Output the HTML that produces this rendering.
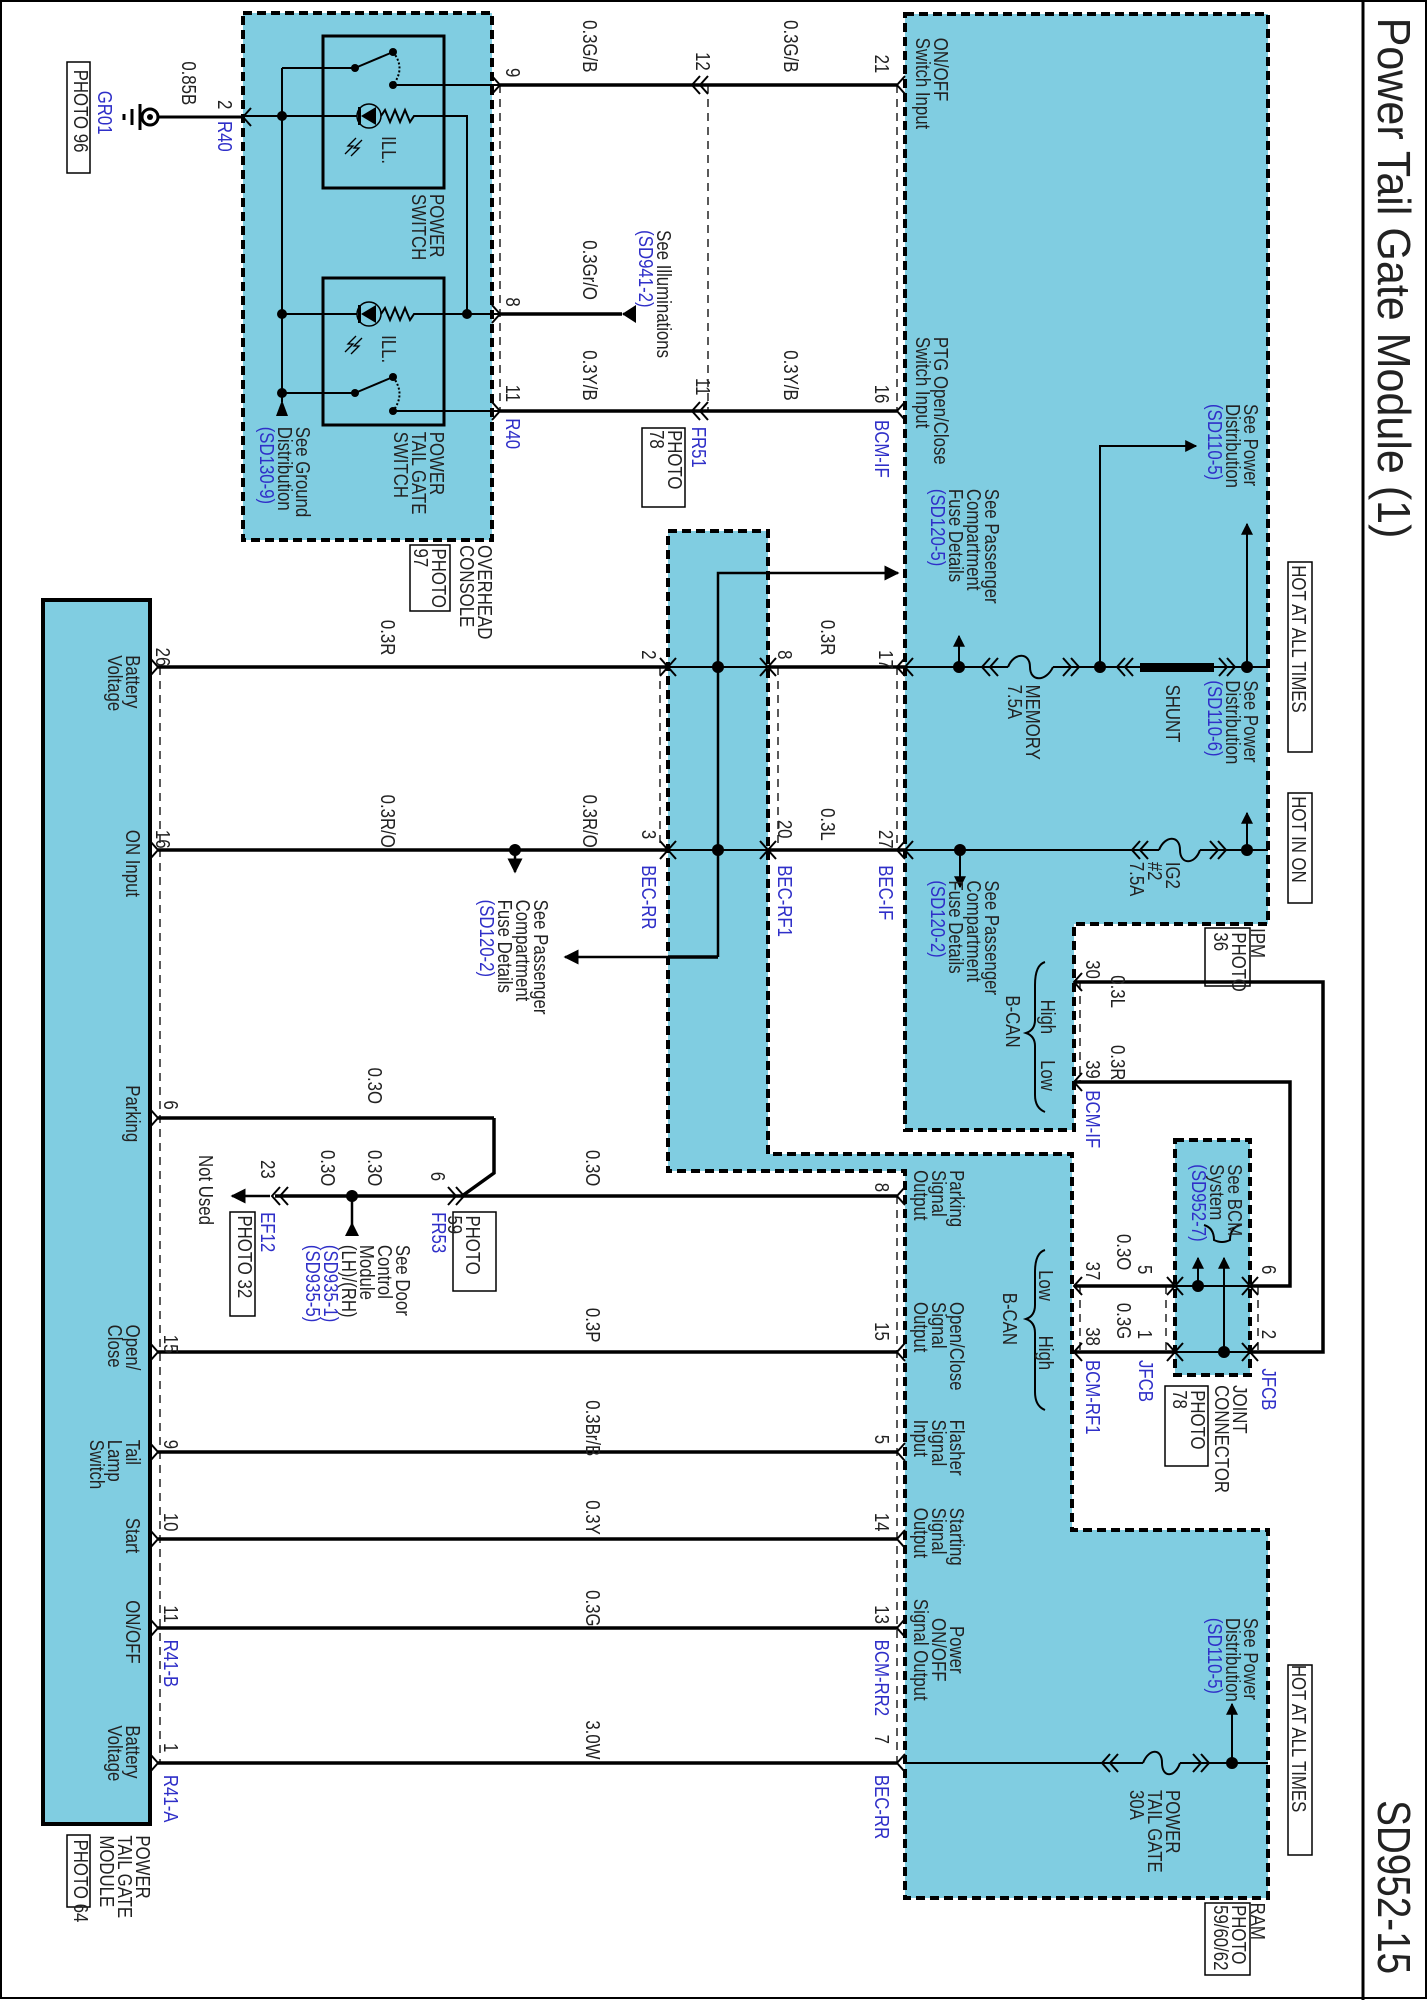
<!DOCTYPE html>
<html><head><meta charset="utf-8"><style>
html,body{margin:0;padding:0;background:#fff}
svg{display:block}
text{font-family:"Liberation Sans",sans-serif;font-size:20px;fill:#222}
.b{fill:#2f2fc8}
</style></head><body>
<svg width="1428" height="2000" viewBox="0 0 1428 2000" xmlns="http://www.w3.org/2000/svg">
<defs>
<marker id="ah" viewBox="0 0 10 10" refX="9" refY="5" markerWidth="6" markerHeight="6" orient="auto"><path d="M0,0 L10,5 L0,10 z" fill="#000"/></marker>
</defs>
<rect x="1" y="1" width="1425" height="1997" fill="none" stroke="#000" stroke-width="2"/>
<line x1="1363" y1="0" x2="1363" y2="2000" stroke="#000" stroke-width="3"/>

<g fill="#80cde1" stroke="#000" stroke-width="4" stroke-dasharray="9,5">
<rect x="243" y="13" width="249" height="527"/>
<polygon points="905,14 1268,14 1268,924 1074,924 1074,1130 905,1130"/>
<polygon points="668,531 768,531 768,1154 1072,1154 1072,1530 1268,1530 1268,1898 905,1898 905,1171 668,1171"/>
<rect x="1175" y="1140" width="75" height="235"/>
</g>
<rect x="43" y="600" width="107" height="1224" fill="#80cde1" stroke="#000" stroke-width="4"/>

<g stroke="#000" stroke-width="1.3" stroke-dasharray="8,6" fill="none">
<line x1="500" y1="85" x2="500" y2="411"/>
<line x1="708" y1="85" x2="708" y2="411"/>
<line x1="897" y1="85" x2="897" y2="411"/>
<line x1="660" y1="667" x2="660" y2="850"/>
<line x1="778" y1="667" x2="778" y2="850"/>
<line x1="897" y1="667" x2="897" y2="850"/>
<line x1="1080" y1="982" x2="1080" y2="1082"/>
<line x1="1080" y1="1286" x2="1080" y2="1352"/>
<line x1="1166" y1="1286" x2="1166" y2="1352"/>
<line x1="1258" y1="1286" x2="1258" y2="1352"/>
<line x1="897" y1="1196" x2="897" y2="1763"/>
<line x1="160" y1="667" x2="160" y2="1763"/>
</g>

<g fill="none" stroke="#000" stroke-width="1.5">
<rect x="67" y="62" width="23" height="111"/>
<rect x="642" y="428" width="43" height="79"/>
<rect x="410" y="545" width="40" height="66"/>
<rect x="1288" y="562" width="24" height="190"/>
<rect x="1288" y="793" width="24" height="110"/>
<rect x="1205" y="928" width="45" height="58"/>
<rect x="1165" y="1386" width="43" height="80"/>
<rect x="453" y="1212" width="43" height="79"/>
<rect x="230" y="1212" width="25" height="104"/>
<rect x="1288" y="1665" width="24" height="190"/>
<rect x="1205" y="1903" width="45" height="72"/>
<rect x="67" y="1835" width="23" height="72"/>
</g>

<g stroke="#000" fill="none">
<rect x="323" y="36" width="121" height="152" stroke-width="3"/>
<rect x="323" y="278" width="121" height="147" stroke-width="3"/>
<g stroke-width="2">
<line x1="282" y1="116" x2="282" y2="402"/>
<line x1="282" y1="68" x2="355" y2="68"/>
<line x1="282" y1="68" x2="282" y2="116"/>
<line x1="355" y1="68" x2="393" y2="52"/>
<path d="M393,52 Q406,68 393,85" stroke-dasharray="2,2"/>
<line x1="393" y1="85" x2="500" y2="85"/>
<line x1="243" y1="116" x2="357" y2="116"/>
<polyline points="381,116 385,110 390,122 395,110 400,122 405,110 410,122 414,116 467,116 467,314"/>
<line x1="282" y1="314" x2="357" y2="314"/>
<polyline points="381,314 385,308 390,320 395,308 400,320 405,308 410,320 414,314 500,314"/>
<line x1="282" y1="393" x2="355" y2="393"/>
<line x1="355" y1="393" x2="393" y2="377"/>
<path d="M393,377 Q406,394 393,411" stroke-dasharray="2,2"/>
<line x1="393" y1="411" x2="500" y2="411"/>
</g>
<circle cx="369" cy="116" r="12" stroke-width="1.5"/>
<circle cx="369" cy="314" r="12" stroke-width="1.5"/>
</g>
<g fill="#000">
<polygon points="361,116 376,107 376,125"/><rect x="358" y="107" width="3" height="18"/>
<polygon points="361,314 376,305 376,323"/><rect x="358" y="305" width="3" height="18"/>
<circle cx="282" cy="116" r="5"/><circle cx="282" cy="314" r="5"/><circle cx="282" cy="393" r="5"/>
<circle cx="467" cy="314" r="5"/>
<circle cx="355" cy="68" r="4"/><circle cx="393" cy="52" r="4"/><circle cx="393" cy="85" r="4"/>
<circle cx="355" cy="393" r="4"/><circle cx="393" cy="377" r="4"/><circle cx="393" cy="411" r="4"/>
<polygon points="282,400 276,416 288,416"/>
</g>
<g stroke="#000" stroke-width="1.3" fill="none">
<path d="M356,138 L348,146 L353,146 L345,154"/><path d="M362,140 L354,148 L359,148 L351,156"/>
<path d="M356,336 L348,344 L353,344 L345,352"/><path d="M362,338 L354,346 L359,346 L351,354"/>
</g>

<g stroke="#000" fill="none">
<circle cx="150" cy="117" r="8" stroke-width="3"/>
<line x1="158" y1="117" x2="243" y2="117" stroke-width="3"/>
<line x1="140" y1="104" x2="140" y2="130" stroke-width="3"/>
<line x1="132" y1="109" x2="132" y2="125" stroke-width="3"/>
<line x1="124" y1="114" x2="124" y2="120" stroke-width="3"/>
</g>
<circle cx="150" cy="117" r="3" fill="#000"/>

<g stroke="#000" stroke-width="3.5" fill="none">
<line x1="500" y1="85" x2="897" y2="85"/>
<line x1="500" y1="314" x2="622" y2="314"/>
<line x1="500" y1="411" x2="897" y2="411"/>
<line x1="158" y1="667" x2="668" y2="667"/>
<line x1="768" y1="667" x2="905" y2="667"/>
<line x1="158" y1="850" x2="668" y2="850"/>
<line x1="768" y1="850" x2="905" y2="850"/>
<line x1="668" y1="957" x2="718" y2="957" />
<line x1="158" y1="1118" x2="494" y2="1118"/>
<polyline points="494,1118 494,1173 462,1196"/>
<line x1="275" y1="1196" x2="897" y2="1196"/>
<line x1="158" y1="1352" x2="897" y2="1352"/>
<line x1="158" y1="1452" x2="897" y2="1452"/>
<line x1="158" y1="1539" x2="897" y2="1539"/>
<line x1="158" y1="1628" x2="897" y2="1628"/>
<line x1="158" y1="1763" x2="897" y2="1763"/>
<polyline points="1074,982 1323,982 1323,1352 1250,1352"/>
<polyline points="1074,1082 1290,1082 1290,1286 1250,1286"/>
<line x1="1074" y1="1286" x2="1175" y2="1286"/>
<line x1="1074" y1="1352" x2="1175" y2="1352"/>
</g>
<g stroke="#000" stroke-width="2.5" fill="none">
<line x1="515" y1="850" x2="515" y2="872" marker-end="url(#ah)"/>
<polyline points="668,957 565,957" marker-end="url(#ah)"/>
<line x1="352" y1="1196" x2="352" y2="1232"/>
<line x1="270" y1="1196" x2="232" y2="1196" marker-end="url(#ah)"/>
<line x1="623" y1="314" x2="634" y2="314"/>
</g>
<polygon points="622,314 636,305 636,323" fill="#000"/>
<polygon points="352,1222 345,1236 359,1236" fill="#000"/>

<g stroke="#000" stroke-width="2" fill="none">
<line x1="668" y1="667" x2="768" y2="667"/><line x1="668" y1="850" x2="768" y2="850"/>
<polyline points="718,957 718,573 898,573" stroke-width="2.5" marker-end="url(#ah)"/>
<line x1="905" y1="667" x2="1008" y2="667"/>
<path d="M1008,667 C1014,652 1030,652 1030,667 C1030,682 1046,682 1053,667"/>
<line x1="1053" y1="667" x2="1140" y2="667"/>
<line x1="1214" y1="667" x2="1268" y2="667"/>
<line x1="959" y1="667" x2="959" y2="636" marker-end="url(#ah)"/>
<polyline points="1100,667 1100,446 1196,446" marker-end="url(#ah)"/>
<line x1="1247" y1="667" x2="1247" y2="524" marker-end="url(#ah)"/>
<line x1="905" y1="850" x2="1159" y2="850"/>
<path d="M1159,850 C1165,835 1180,835 1180,850 C1180,865 1195,865 1200,850"/>
<line x1="1200" y1="850" x2="1268" y2="850"/>
<line x1="960" y1="850" x2="960" y2="887" marker-end="url(#ah)"/>
<line x1="1247" y1="850" x2="1247" y2="813" marker-end="url(#ah)"/>
<line x1="1175" y1="1286" x2="1250" y2="1286"/><line x1="1175" y1="1352" x2="1250" y2="1352"/>
<line x1="1198" y1="1286" x2="1198" y2="1258" marker-end="url(#ah)"/>
<line x1="1224" y1="1352" x2="1224" y2="1258" marker-end="url(#ah)"/>
<line x1="905" y1="1763" x2="1143" y2="1763"/>
<path d="M1143,1763 C1149,1748 1162,1748 1162,1763 C1162,1778 1175,1778 1180,1763"/>
<line x1="1180" y1="1763" x2="1268" y2="1763"/>
<line x1="1232" y1="1763" x2="1232" y2="1704" marker-end="url(#ah)"/>
<path d="M1045,962 Q1035,965 1035,985 L1035,1020 Q1035,1030 1026,1033 Q1035,1036 1035,1046 L1035,1095 Q1035,1108 1045,1112"/>
<path d="M1045,1250 Q1035,1253 1035,1272 L1035,1305 Q1035,1316 1026,1319 Q1035,1322 1035,1333 L1035,1392 Q1035,1406 1045,1410"/>
<path d="M1240,1225 Q1230,1228 1230,1240 Q1222,1244 1214,1240 Q1214,1228 1204,1225"/>
</g>
<rect x="1140" y="663" width="74" height="9" fill="#000"/>
<g fill="#000">
<circle cx="718" cy="667" r="6"/><circle cx="718" cy="850" r="6"/>
<circle cx="959" cy="667" r="6"/><circle cx="1100" cy="667" r="6"/><circle cx="1247" cy="667" r="6"/>
<circle cx="960" cy="850" r="6"/><circle cx="1247" cy="850" r="6"/>
<circle cx="515" cy="850" r="6"/><circle cx="352" cy="1196" r="6"/>
<circle cx="1198" cy="1286" r="6"/><circle cx="1224" cy="1352" r="6"/>
<circle cx="1232" cy="1763" r="6"/>
</g>

<g stroke="#000" stroke-width="2" fill="none">
<polyline points="492,76 500,85 492,94"/><polyline points="492,305 500,314 492,323"/><polyline points="492,402 500,411 492,420"/>
<polyline points="251,108 243,117 251,126"/>
<polyline points="700,76 692,85 700,94"/><polyline points="708,76 700,85 708,94"/>
<polyline points="700,402 692,411 700,420"/><polyline points="708,402 700,411 708,420"/>
<polyline points="905,76 897,85 905,94"/><polyline points="905,402 897,411 905,420"/>
<polyline points="660,658 668,667 660,676"/><polyline points="676,658 668,667 676,676"/>
<polyline points="760,658 768,667 760,676"/><polyline points="776,658 768,667 776,676"/>
<polyline points="660,841 668,850 660,859"/><polyline points="676,841 668,850 676,859"/>
<polyline points="760,841 768,850 760,859"/><polyline points="776,841 768,850 776,859"/>
<polyline points="905,658 897,667 905,676"/><polyline points="913,658 905,667 913,676"/>
<polyline points="905,841 897,850 905,859"/><polyline points="913,841 905,850 913,859"/>
<polyline points="990,658 982,667 990,676"/><polyline points="998,658 990,667 998,676"/>
<polyline points="1063,658 1071,667 1063,676"/><polyline points="1071,658 1079,667 1071,676"/>
<polyline points="1125,658 1117,667 1125,676"/><polyline points="1133,658 1125,667 1133,676"/>
<polyline points="1219,658 1227,667 1219,676"/><polyline points="1227,658 1235,667 1227,676"/>
<polyline points="1140,841 1132,850 1140,859"/><polyline points="1148,841 1140,850 1148,859"/>
<polyline points="1210,841 1218,850 1210,859"/><polyline points="1218,841 1226,850 1218,859"/>
<polyline points="1082,973 1074,982 1082,991"/><polyline points="1082,1073 1074,1082 1082,1091"/>
<polyline points="1082,1277 1074,1286 1082,1295"/><polyline points="1082,1343 1074,1352 1082,1361"/>
<polyline points="1167,1277 1175,1286 1167,1295"/><polyline points="1183,1277 1175,1286 1183,1295"/>
<polyline points="1167,1343 1175,1352 1167,1361"/><polyline points="1183,1343 1175,1352 1183,1361"/>
<polyline points="1242,1277 1250,1286 1242,1295"/><polyline points="1258,1277 1250,1286 1258,1295"/>
<polyline points="1242,1343 1250,1352 1242,1361"/><polyline points="1258,1343 1250,1352 1258,1361"/>
<polyline points="448,1187 456,1196 448,1205"/><polyline points="456,1187 464,1196 456,1205"/>
<polyline points="280,1187 272,1196 280,1205"/><polyline points="288,1187 280,1196 288,1205"/>
<polyline points="905,1187 897,1196 905,1205"/><polyline points="905,1343 897,1352 905,1361"/>
<polyline points="905,1443 897,1452 905,1461"/><polyline points="905,1530 897,1539 905,1548"/>
<polyline points="905,1619 897,1628 905,1637"/><polyline points="905,1754 897,1763 905,1772"/>
<polyline points="1110,1754 1102,1763 1110,1772"/><polyline points="1118,1754 1110,1763 1118,1772"/>
<polyline points="1193,1754 1201,1763 1193,1772"/><polyline points="1201,1754 1209,1763 1201,1772"/>
<polyline points="150,658 158,667 150,676"/><polyline points="150,841 158,850 150,859"/>
<polyline points="150,1109 158,1118 150,1127"/><polyline points="150,1343 158,1352 150,1361"/>
<polyline points="150,1443 158,1452 150,1461"/><polyline points="150,1530 158,1539 150,1548"/>
<polyline points="150,1619 158,1628 150,1637"/><polyline points="150,1754 158,1763 150,1772"/>
</g>

<g transform="matrix(0,0.84,-1,0,1428,0)">
<text x="21" y="50" style="font-size:46px" textLength="620" lengthAdjust="spacingAndGlyphs">Power Tail Gate Module (1)</text>
<text x="2143" y="50" style="font-size:46px">SD952-15</text>

<text x="73" y="1246">0.85B</text>
<text x="119" y="1210">2</text>
<text x="144" y="1210" class="b">R40</text>
<text x="108" y="1330" class="b">GR01</text>
<text x="83" y="1354">PHOTO 96</text>
<text x="162" y="1046">ILL.</text>
<text x="399" y="1046">ILL.</text>
<text x="231" y="998">POWER<tspan x="231" dy="18">SWITCH</tspan></text>
<text x="514" y="998">POWER<tspan x="514" dy="18">TAIL GATE</tspan><tspan x="514" dy="18">SWITCH</tspan></text>
<text x="508" y="1132">See Ground<tspan x="508" dy="18">Distribution</tspan><tspan x="508" dy="18" class="b">(SD130-9)</tspan></text>
<text x="81" y="922">9</text>
<text x="354" y="922">8</text>
<text x="458" y="922">11</text>
<text x="498" y="922" class="b">R40</text>
<text x="24" y="845">0.3G/B</text>
<text x="286" y="845">0.3Gr/O</text>
<text x="417" y="845">0.3Y/B</text>
<text x="62" y="732">12</text>
<text x="450" y="732">11</text>
<text x="508" y="736" class="b">FR51</text>
<text x="512" y="760">PHOTO<tspan x="512" dy="18">78</tspan></text>
<text x="274" y="771">See Illuminations<tspan x="274" dy="18" class="b">(SD941-2)</tspan></text>
<text x="649" y="950">OVERHEAD<tspan x="649" dy="18">CONSOLE</tspan></text>
<text x="653" y="996">PHOTO<tspan x="653" dy="18">97</tspan></text>

<text x="24" y="644">0.3G/B</text>
<text x="417" y="644">0.3Y/B</text>
<text x="65" y="553">21</text>
<text x="458" y="553">16</text>
<text x="500" y="553" class="b">BCM-IF</text>
<text x="45" y="494">ON/OFF<tspan x="45" dy="18">Switch Input</tspan></text>
<text x="401" y="494">PTG Open/Close<tspan x="401" dy="18">Switch Input</tspan></text>
<text x="481" y="184">See Power<tspan x="481" dy="18">Distribution</tspan><tspan x="481" dy="18" class="b">(SD110-5)</tspan></text>
<text x="582" y="443">See Passenger<tspan x="582" dy="18">Compartment</tspan><tspan x="582" dy="18">Fuse Details</tspan><tspan x="582" dy="18" class="b">(SD120-5)</tspan></text>
<text x="673" y="136">HOT AT ALL TIMES</text>
<text x="948" y="136">HOT IN ON</text>
<text x="738" y="1047">0.3R</text>
<text x="738" y="607">0.3R</text>
<text x="771" y="1272">26</text>
<text x="774" y="786">2</text>
<text x="774" y="650">8</text>
<text x="774" y="549">17</text>
<text x="780" y="1302">Battery<tspan x="780" dy="18">Voltage</tspan></text>
<text x="815" y="402">MEMORY<tspan x="815" dy="18">7.5A</tspan></text>
<text x="815" y="262">SHUNT</text>
<text x="810" y="184">See Power<tspan x="810" dy="18">Distribution</tspan><tspan x="810" dy="18" class="b">(SD110-6)</tspan></text>
<text x="1026" y="262">IG2<tspan x="1026" dy="18">#2</tspan><tspan x="1026" dy="18">7.5A</tspan></text>
<text x="946" y="1047">0.3R/O</text>
<text x="946" y="845">0.3R/O</text>
<text x="962" y="607">0.3L</text>
<text x="988" y="1272">16</text>
<text x="988" y="786">3</text>
<text x="976" y="650">20</text>
<text x="988" y="549">27</text>
<text x="1030" y="786" class="b">BEC-RR</text>
<text x="1030" y="650" class="b">BEC-RF1</text>
<text x="1030" y="549" class="b">BEC-IF</text>
<text x="988" y="1302">ON Input</text>
<text x="1071" y="894">See Passenger<tspan x="1071" dy="18">Compartment</tspan><tspan x="1071" dy="18">Fuse Details</tspan><tspan x="1071" dy="18" class="b">(SD120-2)</tspan></text>
<text x="1048" y="443">See Passenger<tspan x="1048" dy="18">Compartment</tspan><tspan x="1048" dy="18">Fuse Details</tspan><tspan x="1048" dy="18" class="b">(SD120-2)</tspan></text>
<text x="1105" y="177">IPM</text>
<text x="1110" y="196">PHOTO<tspan x="1110" dy="18">36</tspan></text>
<text x="1161" y="317">0.3L</text>
<text x="1244" y="317">0.3R</text>
<text x="1143" y="342">30</text>
<text x="1262" y="342">39</text>
<text x="1298" y="342" class="b">BCM-IF</text>
<text x="1190" y="387">High</text>
<text x="1262" y="387">Low</text>
<text x="1185" y="422">B-CAN</text>

<text x="1393" y="478">Parking<tspan x="1393" dy="18">Signal</tspan><tspan x="1393" dy="18">Output</tspan></text>
<text x="1408" y="553">8</text>
<text x="1512" y="389">Low</text>
<text x="1590" y="389">High</text>
<text x="1539" y="425">B-CAN</text>
<text x="1502" y="342">37</text>
<text x="1580" y="342">38</text>
<text x="1469" y="311">0.3O</text>
<text x="1551" y="311">0.3G</text>
<text x="1506" y="290">5</text>
<text x="1583" y="290">1</text>
<text x="1619" y="342" class="b">BCM-RF1</text>
<text x="1619" y="289" class="b">JFCB</text>
<text x="1629" y="166" class="b">JFCB</text>
<text x="1506" y="166">6</text>
<text x="1583" y="166">2</text>
<text x="1386" y="200">See BCM<tspan x="1386" dy="18">System</tspan><tspan x="1386" dy="18" class="b">(SD952-7)</tspan></text>
<text x="1649" y="195">JOINT<tspan x="1649" dy="18">CONNECTOR</tspan></text>
<text x="1655" y="237">PHOTO<tspan x="1655" dy="18">78</tspan></text>
<text x="1550" y="478">Open/Close<tspan x="1550" dy="18">Signal</tspan><tspan x="1550" dy="18">Output</tspan></text>
<text x="1574" y="553">15</text>
<text x="1690" y="478">Flasher<tspan x="1690" dy="18">Signal</tspan><tspan x="1690" dy="18">Input</tspan></text>
<text x="1708" y="553">5</text>
<text x="1795" y="478">Starting<tspan x="1795" dy="18">Signal</tspan><tspan x="1795" dy="18">Output</tspan></text>
<text x="1801" y="553">14</text>
<text x="1964" y="478" text-anchor="middle">Power<tspan x="1964" dy="18">ON/OFF</tspan><tspan x="1964" dy="18">Signal Output</tspan></text>
<text x="1911" y="553">13</text>
<text x="1952" y="553" class="b">BCM-RR2</text>
<text x="2065" y="553">7</text>
<text x="2113" y="553" class="b">BEC-RR</text>
<text x="1926" y="184">See Power<tspan x="1926" dy="18">Distribution</tspan><tspan x="1926" dy="18" class="b">(SD110-5)</tspan></text>
<text x="1982" y="136">HOT AT ALL TIMES</text>
<text x="2131" y="262">POWER<tspan x="2131" dy="18">TAIL GATE</tspan><tspan x="2131" dy="18">30A</tspan></text>
<text x="2265" y="177">RAM</text>
<text x="2268" y="196">PHOTO<tspan x="2268" dy="18">59/60/62</tspan></text>

<text x="1271" y="1060">0.3O</text>
<text x="1369" y="842">0.3O</text>
<text x="1369" y="1060">0.3O</text>
<text x="1369" y="1107">0.3O</text>
<text x="1381" y="1167">23</text>
<text x="1395" y="997">6</text>
<text x="1310" y="1264">6</text>
<text x="1375" y="1229">Not Used</text>
<text x="1443" y="1167" class="b">EF12</text>
<text x="1447" y="1190">PHOTO 32</text>
<text x="1443" y="996" class="b">FR53</text>
<text x="1447" y="962">PHOTO<tspan x="1447" dy="18">59</tspan></text>
<text x="1482" y="1032">See Door<tspan x="1482" dy="18">Control</tspan><tspan x="1482" dy="18">Module</tspan><tspan x="1482" dy="18">(LH)/(RH)</tspan><tspan x="1482" dy="18" class="b">(SD935-1)</tspan><tspan x="1482" dy="18" class="b">(SD935-5)</tspan></text>
<text x="1557" y="842">0.3P</text>
<text x="1667" y="842">0.3Br/B</text>
<text x="1786" y="842">0.3Y</text>
<text x="1893" y="842">0.3G</text>
<text x="2048" y="842">3.0W</text>
<text x="1292" y="1302">Parking</text>
<text x="1577" y="1302">Open/<tspan x="1577" dy="18">Close</tspan></text>
<text x="1714" y="1302">Tail<tspan x="1714" dy="18">Lamp</tspan><tspan x="1714" dy="18">Switch</tspan></text>
<text x="1807" y="1302">Start</text>
<text x="1905" y="1302">ON/OFF</text>
<text x="2054" y="1302">Battery<tspan x="2054" dy="18">Voltage</tspan></text>
<text x="1589" y="1264">15</text>
<text x="1714" y="1264">9</text>
<text x="1801" y="1264">10</text>
<text x="1911" y="1264">11</text>
<text x="1952" y="1264" class="b">R41-B</text>
<text x="2075" y="1264">1</text>
<text x="2113" y="1264" class="b">R41-A</text>
<text x="2185" y="1292">POWER<tspan x="2185" dy="18">TAIL GATE</tspan><tspan x="2185" dy="18">MODULE</tspan></text>
<text x="2190" y="1354">PHOTO 64</text>
</g>
</svg>
</body></html>
